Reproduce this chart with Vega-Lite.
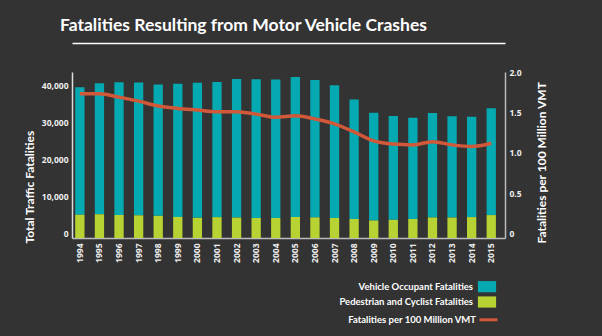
{
  "$schema": "https://vega.github.io/schema/vega-lite/v6.json",
  "width": 433,
  "height": 166,
  "autosize": {"type": "none"},
  "padding": {"left": 72, "top": 72, "right": 97, "bottom": 98},
  "background": "#333333",
  "title": {"text": "Fatalities Resulting from Motor Vehicle Crashes", "anchor": "start", "frame": "group", "dx": -12, "dy": -5, "font": "Lato", "fontSize": 17.5, "fontWeight": "bold", "color": "#ffffff"},
  "datasets": {
    "bars": [
      {"year": "1994", "series": "Vehicle Occupant Fatalities", "value": 34425}, {"year": "1994", "series": "Pedestrian and Cyclist Fatalities", "value": 6291},
      {"year": "1995", "series": "Vehicle Occupant Fatalities", "value": 35400}, {"year": "1995", "series": "Pedestrian and Cyclist Fatalities", "value": 6417},
      {"year": "1996", "series": "Vehicle Occupant Fatalities", "value": 35851}, {"year": "1996", "series": "Pedestrian and Cyclist Fatalities", "value": 6214},
      {"year": "1997", "series": "Vehicle Occupant Fatalities", "value": 35878}, {"year": "1997", "series": "Pedestrian and Cyclist Fatalities", "value": 6135},
      {"year": "1998", "series": "Vehicle Occupant Fatalities", "value": 35513}, {"year": "1998", "series": "Pedestrian and Cyclist Fatalities", "value": 5988},
      {"year": "1999", "series": "Vehicle Occupant Fatalities", "value": 36024}, {"year": "1999", "series": "Pedestrian and Cyclist Fatalities", "value": 5693},
      {"year": "2000", "series": "Vehicle Occupant Fatalities", "value": 36489}, {"year": "2000", "series": "Pedestrian and Cyclist Fatalities", "value": 5456},
      {"year": "2001", "series": "Vehicle Occupant Fatalities", "value": 36563}, {"year": "2001", "series": "Pedestrian and Cyclist Fatalities", "value": 5633},
      {"year": "2002", "series": "Vehicle Occupant Fatalities", "value": 37489}, {"year": "2002", "series": "Pedestrian and Cyclist Fatalities", "value": 5516},
      {"year": "2003", "series": "Vehicle Occupant Fatalities", "value": 37481}, {"year": "2003", "series": "Pedestrian and Cyclist Fatalities", "value": 5403},
      {"year": "2004", "series": "Vehicle Occupant Fatalities", "value": 37434}, {"year": "2004", "series": "Pedestrian and Cyclist Fatalities", "value": 5402},
      {"year": "2005", "series": "Vehicle Occupant Fatalities", "value": 37832}, {"year": "2005", "series": "Pedestrian and Cyclist Fatalities", "value": 5678},
      {"year": "2006", "series": "Vehicle Occupant Fatalities", "value": 37141}, {"year": "2006", "series": "Pedestrian and Cyclist Fatalities", "value": 5567},
      {"year": "2007", "series": "Vehicle Occupant Fatalities", "value": 35859}, {"year": "2007", "series": "Pedestrian and Cyclist Fatalities", "value": 5400},
      {"year": "2008", "series": "Vehicle Occupant Fatalities", "value": 32291}, {"year": "2008", "series": "Pedestrian and Cyclist Fatalities", "value": 5132},
      {"year": "2009", "series": "Vehicle Occupant Fatalities", "value": 29146}, {"year": "2009", "series": "Pedestrian and Cyclist Fatalities", "value": 4737},
      {"year": "2010", "series": "Vehicle Occupant Fatalities", "value": 28074}, {"year": "2010", "series": "Pedestrian and Cyclist Fatalities", "value": 4925},
      {"year": "2011", "series": "Vehicle Occupant Fatalities", "value": 27340}, {"year": "2011", "series": "Pedestrian and Cyclist Fatalities", "value": 5139},
      {"year": "2012", "series": "Vehicle Occupant Fatalities", "value": 28230}, {"year": "2012", "series": "Pedestrian and Cyclist Fatalities", "value": 5552},
      {"year": "2013", "series": "Vehicle Occupant Fatalities", "value": 27366}, {"year": "2013", "series": "Pedestrian and Cyclist Fatalities", "value": 5528},
      {"year": "2014", "series": "Vehicle Occupant Fatalities", "value": 27105}, {"year": "2014", "series": "Pedestrian and Cyclist Fatalities", "value": 5639},
      {"year": "2015", "series": "Vehicle Occupant Fatalities", "value": 28898}, {"year": "2015", "series": "Pedestrian and Cyclist Fatalities", "value": 6194}
    ],
    "rate": [
      {"year": "1994", "series": "Fatalities per 100 Million VMT", "rate": 1.73},
      {"year": "1995", "series": "Fatalities per 100 Million VMT", "rate": 1.73},
      {"year": "1996", "series": "Fatalities per 100 Million VMT", "rate": 1.69},
      {"year": "1997", "series": "Fatalities per 100 Million VMT", "rate": 1.64},
      {"year": "1998", "series": "Fatalities per 100 Million VMT", "rate": 1.58},
      {"year": "1999", "series": "Fatalities per 100 Million VMT", "rate": 1.55},
      {"year": "2000", "series": "Fatalities per 100 Million VMT", "rate": 1.53},
      {"year": "2001", "series": "Fatalities per 100 Million VMT", "rate": 1.51},
      {"year": "2002", "series": "Fatalities per 100 Million VMT", "rate": 1.51},
      {"year": "2003", "series": "Fatalities per 100 Million VMT", "rate": 1.48},
      {"year": "2004", "series": "Fatalities per 100 Million VMT", "rate": 1.44},
      {"year": "2005", "series": "Fatalities per 100 Million VMT", "rate": 1.46},
      {"year": "2006", "series": "Fatalities per 100 Million VMT", "rate": 1.42},
      {"year": "2007", "series": "Fatalities per 100 Million VMT", "rate": 1.36},
      {"year": "2008", "series": "Fatalities per 100 Million VMT", "rate": 1.26},
      {"year": "2009", "series": "Fatalities per 100 Million VMT", "rate": 1.15},
      {"year": "2010", "series": "Fatalities per 100 Million VMT", "rate": 1.11},
      {"year": "2011", "series": "Fatalities per 100 Million VMT", "rate": 1.10},
      {"year": "2012", "series": "Fatalities per 100 Million VMT", "rate": 1.14},
      {"year": "2013", "series": "Fatalities per 100 Million VMT", "rate": 1.10},
      {"year": "2014", "series": "Fatalities per 100 Million VMT", "rate": 1.08},
      {"year": "2015", "series": "Fatalities per 100 Million VMT", "rate": 1.12}
    ]
  },
  "layer": [
    {
      "data": {"name": "bars"},
      "mark": {"type": "bar"},
      "encoding": {
        "x": {
          "field": "year", "type": "ordinal",
          "scale": {"paddingInner": 0.525, "paddingOuter": 0.314, "align": 0.26},
          "axis": {"orient": "bottom", "title": null, "labelAngle": -90, "labelPadding": 5, "ticks": false, "domainColor": "#bbbbbb", "domainWidth": 1.5, "labelFont": "Open Sans", "labelFontWeight": "bold", "labelFontSize": 8.5, "labelColor": "#eeeeee"}
        },
        "y": {
          "field": "value", "type": "quantitative", "stack": "zero",
          "scale": {"domain": [0, 44865], "nice": false},
          "axis": {"orient": "left", "values": [0, 10000, 20000, 30000, 40000], "format": ",d", "grid": false, "ticks": false, "labelPadding": 4, "labelOffset": -5, "labelFont": "Open Sans", "labelFontWeight": "bold", "labelFontSize": 8.5, "labelColor": "#eeeeee", "domainColor": "#dddddd", "domainWidth": 1.5,
            "title": "Total Traffic Fatalities", "titleX": -43, "titleY": 171, "titleAngle": -90, "titleAlign": "left", "titleBaseline": "middle", "titleFont": "Lato", "titleFontWeight": "bold", "titleFontSize": 12, "titleColor": "#ffffff"}
        },
        "fill": {
          "field": "series", "type": "nominal",
          "scale": {"domain": ["Vehicle Occupant Fatalities", "Pedestrian and Cyclist Fatalities"], "range": ["#05a9b1", "#b7d333"]},
          "legend": {"orient": "none", "legendX": 408, "legendY": 207.7, "title": null, "symbolType": "M-1.3,-0.8H1.3V0.8H-1.3Z", "symbolSize": 196, "symbolStrokeWidth": 0, "symbolOpacity": 1, "labelAlign": "right", "labelOffset": -21, "labelLimit": 300, "labelFont": "Lato", "labelFontWeight": "bold", "labelFontSize": 9.5, "labelColor": "#ffffff", "rowPadding": 2.3, "padding": 0}
        },
        "order": {"field": "series", "sort": "ascending"}
      }
    },
    {
      "data": {"name": "rate"},
      "mark": {"type": "line", "interpolate": "monotone", "strokeWidth": 3.5},
      "encoding": {
        "x": {
          "field": "year", "type": "ordinal",
          "axis": {"orient": "top", "labels": false, "ticks": false, "title": null, "domainColor": "#ffffff", "domainWidth": 1.5, "offset": 29}
        },
        "y": {
          "field": "rate", "type": "quantitative",
          "scale": {"domain": [-0.05, 2.0], "nice": false, "zero": false},
          "axis": {"orient": "right", "values": [0, 0.5, 1, 1.5, 2], "labelExpr": "datum.value == 0 ? '0' : format(datum.value, '.1f')", "grid": false, "ticks": false, "labelPadding": 4, "labelFont": "Open Sans", "labelFontWeight": "bold", "labelFontSize": 8.5, "labelColor": "#eeeeee", "domainColor": "#bbbbbb", "domainWidth": 1.5,
            "title": "Fatalities per 100 Million VMT", "titleX": 36, "titleY": 171, "titleAngle": -90, "titleAlign": "left", "titleBaseline": "middle", "titleFont": "Lato", "titleFontWeight": "bold", "titleFontSize": 12, "titleColor": "#ffffff"}
        },
        "stroke": {
          "field": "series", "type": "nominal",
          "scale": {"domain": ["Fatalities per 100 Million VMT"], "range": ["#d2583a"]},
          "legend": {"orient": "none", "legendX": 406, "legendY": 237.3, "title": null, "symbolType": "stroke", "symbolSize": 324, "symbolStrokeWidth": 3, "labelAlign": "right", "labelOffset": -23, "labelLimit": 300, "labelFont": "Lato", "labelFontWeight": "bold", "labelFontSize": 9.5, "labelColor": "#ffffff", "padding": 0}
        }
      }
    }
  ],
  "resolve": {"scale": {"y": "independent"}, "axis": {"x": "independent"}},
  "config": {"view": {"stroke": null}, "axis": {"grid": false}}
}
